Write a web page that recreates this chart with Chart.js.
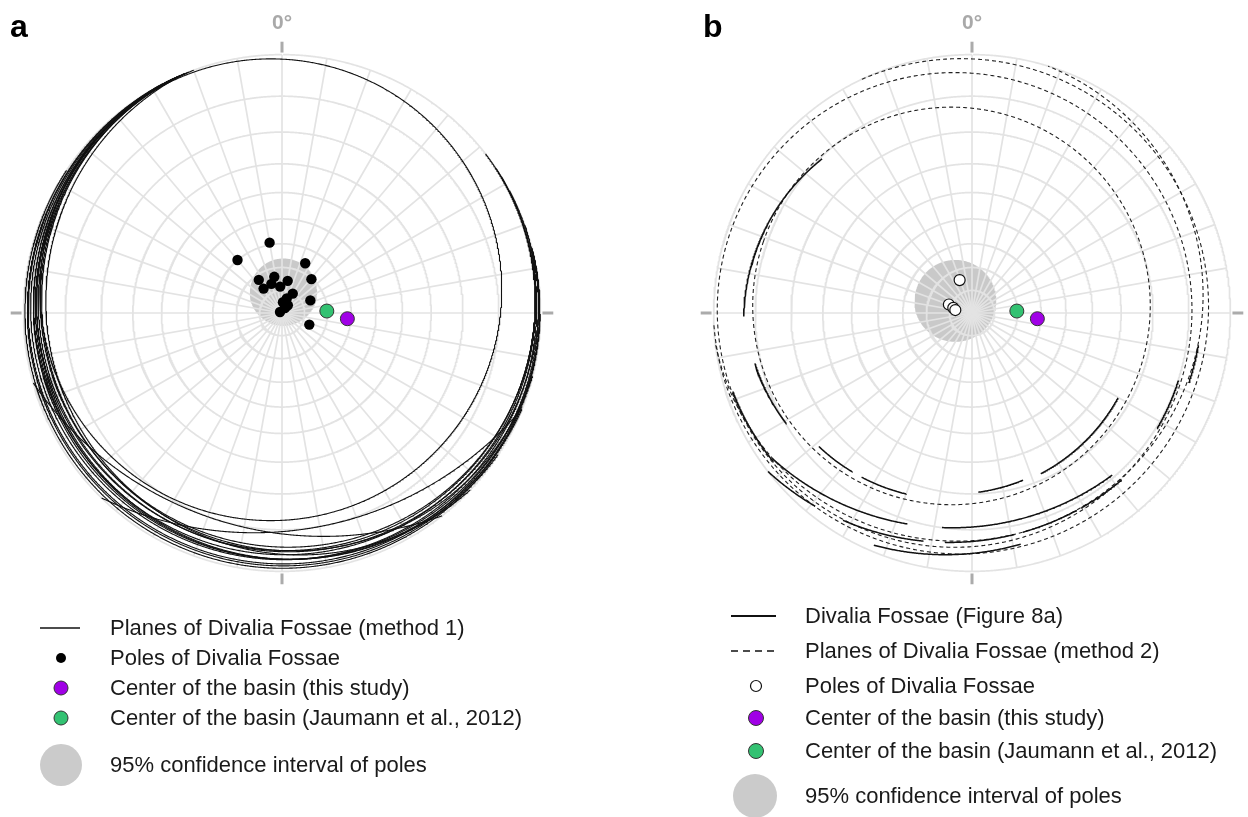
<!DOCTYPE html>
<html>
<head>
<meta charset="utf-8">
<script src="https://cdn.jsdelivr.net/npm/chart.js@4.4.0/dist/chart.umd.min.js"></script>
<style>
  html, body { margin: 0; padding: 0; background: #fff; overflow: hidden; }
  body { width: 1248px; height: 817px; position: relative; font-family: "Liberation Sans", Arial, sans-serif; color: #1a1a1a; }
  canvas.net { position: absolute; top: -7px; width: 640px; height: 640px; }
  .tag { position: absolute; font-weight: bold; font-size: 32px; line-height: 32px; color: #000; }
  .sym { position: absolute; overflow: visible; }
  .txt { position: absolute; font-size: 22px; line-height: 26px; white-space: nowrap; }
</style>
</head>
<body>
<canvas id="netA" class="net" width="640" height="640" style="left:-38px"></canvas>
<canvas id="netB" class="net" width="640" height="640" style="left:652px"></canvas>

<div class="tag" style="left:10px; top:10px">a</div>
<div class="tag" style="left:703px; top:10px">b</div>

<!-- legend a -->
<svg class="sym" style="left:0;top:600px" width="120" height="200">
  <line x1="40" y1="28" x2="80" y2="28" stroke="#111" stroke-width="1.4"/>
  <circle cx="61" cy="58" r="5" fill="#000"/>
  <circle cx="61" cy="88" r="7" fill="#a000e6" stroke="#333" stroke-width="1"/>
  <circle cx="61" cy="118" r="7" fill="#33c272" stroke="#333" stroke-width="1"/>
  <circle cx="61" cy="165" r="21" fill="#cbcbcb"/>
</svg>
<div class="txt" style="left:110px; top:615px">Planes of Divalia Fossae (method 1)</div>
<div class="txt" style="left:110px; top:645px">Poles of Divalia Fossae</div>
<div class="txt" style="left:110px; top:675px">Center of the basin (this study)</div>
<div class="txt" style="left:110px; top:705px">Center of the basin (Jaumann et al., 2012)</div>
<div class="txt" style="left:110px; top:752px">95% confidence interval of poles</div>

<!-- legend b -->
<svg class="sym" style="left:700px;top:600px" width="120" height="217">
  <line x1="31" y1="16" x2="76" y2="16" stroke="#111" stroke-width="1.8"/>
  <line x1="31" y1="51" x2="76" y2="51" stroke="#111" stroke-width="1.4" stroke-dasharray="7,5"/>
  <circle cx="56" cy="86" r="5.5" fill="#fff" stroke="#111" stroke-width="1.2"/>
  <circle cx="56" cy="118" r="7.5" fill="#a000e6" stroke="#333" stroke-width="1"/>
  <circle cx="56" cy="151" r="7.5" fill="#33c272" stroke="#333" stroke-width="1"/>
  <circle cx="55" cy="196" r="22" fill="#cbcbcb"/>
</svg>
<div class="txt" style="left:805px; top:603px">Divalia Fossae (Figure 8a)</div>
<div class="txt" style="left:805px; top:638px">Planes of Divalia Fossae (method 2)</div>
<div class="txt" style="left:805px; top:673px">Poles of Divalia Fossae</div>
<div class="txt" style="left:805px; top:705px">Center of the basin (this study)</div>
<div class="txt" style="left:805px; top:738px">Center of the basin (Jaumann et al., 2012)</div>
<div class="txt" style="left:805px; top:783px">95% confidence interval of poles</div>

<script>
const DEG = Math.PI / 180;

// net grid: rings every 10 degrees, spokes every 10 degrees
const gridRings = [10, 20, 30, 40, 50, 60, 70, 80, 90];
const gridSpokes = Array.from({ length: 36 }, (_, i) => i * 10);
const cardinals = [0, 90, 180, 270];

// --- panel a ---
const polesA_trend  = [350, 320, 25, 325, 348, 340, 323, 356, 10, 41, 29, 18, 5, 37, 31, 297, 66, 113];
const polesA_plunge = [59.1, 60.0, 66.0, 72.2, 73.7, 76.3, 76.5, 78.3, 75.6, 70.3, 80.2, 83.2, 85.2, 85.7, 87.5, 89.0, 76.3, 76.9];

// each plane as a circle on the sphere: axis trend, axis distance from centre, cone angle
const planesA_trend = [334.4, 18, 348, 15, 16, 30, 39, 47.5, 55.5, 18.5, 24.5, 33.5, 24, 18, 44, 10];
const planesA_colat = [6.37, 22, 22, 1.5, 2.2, 3, 4, 3, 5, 1, 3.5, 2, 0.8, 2.8, 2.5, 0.5];
const planesA_cone  = [83.25, 102, 102, 88.8, 88.31, 88.07, 88.31, 89.25, 88.92, 89.27, 87.55, 88.9, 89.5, 87.86, 89.06, 89.8];

// --- panel b ---
const polesB_trend  = [339.4, 290.2, 285.4, 280];
const polesB_plunge = [74.5, 79.1, 81.4, 82.5];

const planesB_trend = [289, 280, 301, 320];
const planesB_colat = [6.05, 4.25, 3, 5.5];
const planesB_cone  = [74.9, 85.0, 87.5, 87.0];

// traced fossae (Figure 8a): circle pieces limited to an azimuth window
const tracesB_trend  = [250, 290, 289, 289, 289, 289, 340, 340, 330, 330, 330, 330, 330, 320, 300, 300, 280];
const tracesB_colat  = [6.3, 8.1, 6.05, 6.05, 6.05, 6.05, 12.35, 12.35, 9.6, 9.6, 9.6, 9.6, 9.6, 8.7, 3, 4.5, 4.25];
const tracesB_cone   = [77.0, 74.8, 73.4, 73.4, 71.8, 72.3, 90.9, 90.9, 91.3, 91.3, 91.3, 91.3, 91.3, 92.55, 86.5, 87.2, 84.3];
const tracesB_azFrom = [269, 239, 217, 200, 163, 120, 197, 139, 219, 192, 169, 152, 138, 168, 233, 98, 108];
const tracesB_azTo   = [316, 257, 229, 214, 178, 157, 234, 188, 233, 212, 187, 167, 151, 203, 252, 108, 122];

// basin centre: this study, Jaumann et al. (2012)
const basinTrend  = [95, 87.5];
const basinPlunge = [61.5, 70.3];

// 95% confidence cone of the poles (a, b)
const confTrend = [4, 306];
const confColat = [9.1, 8.9];
const confCone  = [14.75, 17.9];

// lower hemisphere, equal-angle projection; vectors are [east, north, down]
function vec(trend, colat) {
  const t = trend * DEG, c = colat * DEG;
  return [Math.sin(c) * Math.sin(t), Math.sin(c) * Math.cos(t), Math.cos(c)];
}
function cross(a, b) {
  return [a[1] * b[2] - a[2] * b[1], a[2] * b[0] - a[0] * b[2], a[0] * b[1] - a[1] * b[0]];
}
function project(v) {
  const k = 1 / (1 + v[2]);
  const az = (Math.atan2(v[0], v[1]) / DEG + 360) % 360;
  return { x: v[0] * k, y: v[1] * k, down: v[2], az };
}
function circlePoints(trend, colat, cone) {
  const a = vec(trend, colat), u = vec(trend, colat + 90), w = cross(a, u);
  const cc = Math.cos(cone * DEG), sc = Math.sin(cone * DEG);
  const pts = [];
  for (let k = 0; k < 1440; k++) {
    const p = k * 0.25 * DEG, cp = Math.cos(p), sp = Math.sin(p);
    pts.push(project([0, 1, 2].map(i => a[i] * cc + sc * (u[i] * cp + w[i] * sp))));
  }
  return pts;
}
// split a closed ring of points into the runs that pass keep()
function runs(pts, keep) {
  const flags = pts.map(keep);
  if (flags.every(f => f)) return [pts.concat([pts[0]])];
  const s = flags.indexOf(false), n = pts.length, out = [];
  let cur = null;
  for (let k = 1; k <= n; k++) {
    const i = (s + k) % n;
    if (flags[i]) (cur = cur || []).push(pts[i]);
    else if (cur) { out.push(cur); cur = null; }
  }
  if (cur) out.push(cur);
  return out.filter(r => r.length > 1);
}
const lower = p => p.down >= 0;
function inWindow(from, to) {
  return p => p.down >= 0 && ((p.az - from + 360) % 360) <= (to - from);
}
function pointAt(trend, plunge) {
  return project(vec(trend, 90 - plunge));
}

function lineSet(data, color, width, order, dash) {
  return {
    data: data.map(p => ({ x: p.x, y: p.y })), showLine: true, borderColor: color,
    borderWidth: width, borderDash: dash || [], pointRadius: 0, fill: false, order
  };
}

function gridSets() {
  const sets = [];
  gridRings.forEach(r => sets.push(lineSet(circlePoints(0, 0, r), '#e3e3e3', 1.7, 2)));
  gridSpokes.forEach(az => sets.push(lineSet([{ x: 0, y: 0 }, pointAt(az, 0)], '#e3e3e3', 1.7, 2)));
  cardinals.forEach(az => {
    const s = Math.sin(az * DEG), c = Math.cos(az * DEG);
    sets.push(lineSet([{ x: 1.008 * s, y: 1.008 * c }, { x: 1.05 * s, y: 1.05 * c }], '#ababab', 3, 2));
  });
  return sets;
}

function confSet(i) {
  const ring = circlePoints(confTrend[i], confColat[i], confCone[i]);
  const ds = lineSet(ring.concat([ring[0]]), 'rgba(0,0,0,0)', 0, 3);
  ds.fill = 'shape';
  ds.backgroundColor = '#c9c9c9';
  return ds;
}

function markerSet(trends, plunges, fill, edge, radius, edgeWidth) {
  return {
    data: trends.map((t, i) => { const p = pointAt(t, plunges[i]); return { x: p.x, y: p.y }; }),
    showLine: false, pointRadius: radius, pointBackgroundColor: fill,
    pointBorderColor: edge, pointBorderWidth: edgeWidth, order: 0
  };
}

const northLabel = {
  id: 'northLabel',
  afterDraw(chart) {
    const { ctx, scales: { x, y } } = chart;
    ctx.save();
    ctx.font = 'bold 21px "Liberation Sans", Arial, sans-serif';
    ctx.fillStyle = '#a9a9a9';
    ctx.textAlign = 'center';
    ctx.textBaseline = 'middle';
    ctx.fillText('0°', x.getPixelForValue(0), y.getPixelForValue(1.12));
    ctx.restore();
  }
};

const HALF = 320 / 265;
function drawNet(id, datasets) {
  return new Chart(document.getElementById(id), {
    type: 'scatter',
    data: { datasets },
    options: {
      responsive: false, animation: false, devicePixelRatio: 1, events: [],
      layout: { padding: 0 },
      plugins: { legend: { display: false }, tooltip: { enabled: false } },
      scales: {
        x: { type: 'linear', min: -HALF, max: HALF, display: false },
        y: { type: 'linear', min: -HALF, max: HALF, display: false }
      }
    },
    plugins: [northLabel]
  });
}

// panel a
const setsA = [];
setsA.push(markerSet(basinTrend.slice(0, 1), basinPlunge.slice(0, 1), '#a000e6', '#333', 7, 1));
setsA.push(markerSet(basinTrend.slice(1), basinPlunge.slice(1), '#33c272', '#333', 7, 1));
setsA.push(markerSet(polesA_trend, polesA_plunge, '#000', '#000', 5.2, 0));
planesA_trend.forEach((t, i) => {
  runs(circlePoints(t, planesA_colat[i], planesA_cone[i]), lower)
    .forEach(r => setsA.push(lineSet(r, '#111', 1.1, 1)));
});
setsA.push(...gridSets());
setsA.push(confSet(0));
drawNet('netA', setsA);

// panel b
const setsB = [];
setsB.push(markerSet(basinTrend.slice(0, 1), basinPlunge.slice(0, 1), '#a000e6', '#333', 7, 1));
setsB.push(markerSet(basinTrend.slice(1), basinPlunge.slice(1), '#33c272', '#333', 7, 1));
setsB.push(markerSet(polesB_trend, polesB_plunge, '#fff', '#111', 5.5, 1.2));
tracesB_trend.forEach((t, i) => {
  runs(circlePoints(t, tracesB_colat[i], tracesB_cone[i]), inWindow(tracesB_azFrom[i], tracesB_azTo[i]))
    .forEach(r => setsB.push(lineSet(r, '#111', 1.5, 1)));
});
planesB_trend.forEach((t, i) => {
  runs(circlePoints(t, planesB_colat[i], planesB_cone[i]), lower)
    .forEach(r => setsB.push(lineSet(r, '#222', 1.1, 1, [4, 3])));
});
setsB.push(...gridSets());
setsB.push(confSet(1));
drawNet('netB', setsB);
</script>
</body>
</html>
